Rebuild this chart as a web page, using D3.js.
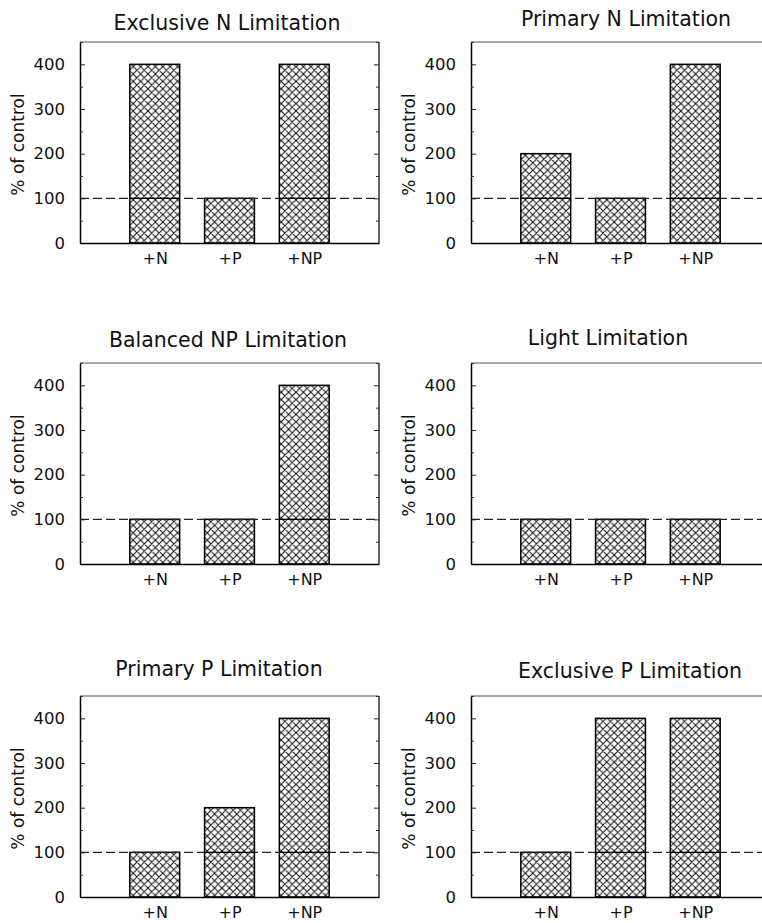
<!DOCTYPE html>
<html>
<head>
<meta charset="utf-8">
<script src="https://cdn.jsdelivr.net/npm/d3@7"></script>
<style>
  body { margin: 0; background: #fff; }
  svg { display: block; }
  text { font-family: "DejaVu Sans", sans-serif; fill: #111; }
</style>
</head>
<body>
<svg id="canvas" width="762" height="923"></svg>
<script>
// data
var treatments = ["+N", "+P", "+NP"];
var titles = ["Exclusive N Limitation", "Primary N Limitation",
              "Balanced NP Limitation", "Light Limitation",
              "Primary P Limitation", "Exclusive P Limitation"];
var exclusiveN = [400, 100, 400];
var primaryN   = [200, 100, 400];
var balancedNP = [100, 100, 400];
var light      = [100, 100, 100];
var primaryP   = [100, 200, 400];
var exclusiveP = [100, 400, 400];
var panelValues = [exclusiveN, primaryN, balancedNP, light, primaryP, exclusiveP];
var yTicks = [0, 100, 200, 300, 400];
var yMinorTicks = [50, 150, 250, 350, 450];
var controlLevel = 100;
var yLabel = "% of control";

// layout of the six panels
var colLeft = [80, 471];
var rowTop = [42, 363, 696];
var plotW = 299, plotH = 201;
var titleY = [30, 26, 347, 345, 676, 678];
var titleX = [227, 626, 228, 608, 219, 630];

var svg = d3.select("#canvas");

var defs = svg.append("defs");
var pat = defs.append("pattern")
	.attr("id", "hatch")
	.attr("patternUnits", "userSpaceOnUse")
	.attr("width", 7.4)
	.attr("height", 7.4);
pat.append("rect").attr("width", 7.4).attr("height", 7.4).attr("fill", "#fff");
pat.append("path")
	.attr("d", "M0,0L7.4,7.4M7.4,0L0,7.4M-1,6.4L1,8.4M6.4,-1L8.4,1")
	.attr("stroke", "#111")
	.attr("stroke-width", 1.05);

panelValues.forEach(function(values, i) {
	var col = i % 2, row = Math.floor(i / 2);
	var x0 = colLeft[col], y0 = rowTop[row];

	var x = d3.scalePoint().domain(treatments).range([x0, x0 + plotW]).padding(1);
	var y = d3.scaleLinear().domain([0, 450]).range([y0 + plotH, y0]);
	var barW = x.step() * 0.667;

	var g = svg.append("g").attr("class", "panel");

	// title
	g.append("text")
		.attr("x", titleX[i])
		.attr("y", titleY[i])
		.attr("text-anchor", "middle")
		.style("font-size", "20.5px")
		.text(titles[i]);

	// bars
	g.selectAll("rect.bar")
		.data(values)
		.enter().append("rect")
		.attr("class", "bar")
		.attr("x", function(d, j) { return x(treatments[j]) - barW / 2; })
		.attr("y", function(d) { return y(d); })
		.attr("width", barW)
		.attr("height", function(d) { return y(0) - y(d); })
		.attr("fill", "url(#hatch)")
		.attr("stroke", "#000")
		.attr("stroke-width", 1.5);

	// control line: dashed across the plot, solid inside taller bars
	g.append("line")
		.attr("x1", x0).attr("x2", x0 + plotW)
		.attr("y1", y(controlLevel)).attr("y2", y(controlLevel))
		.attr("stroke", "#222")
		.attr("stroke-width", 1.3)
		.attr("stroke-dasharray", "9,4");
	values.forEach(function(d, j) {
		if (d > controlLevel) {
			g.append("line")
				.attr("x1", x(treatments[j]) - barW / 2).attr("x2", x(treatments[j]) + barW / 2)
				.attr("y1", y(controlLevel)).attr("y2", y(controlLevel))
				.attr("stroke", "#000")
				.attr("stroke-width", 1.3);
		}
	});

	// frame
	g.append("line")
		.attr("x1", x0).attr("x2", x0 + plotW)
		.attr("y1", y0).attr("y2", y0)
		.attr("stroke", "#555").attr("stroke-width", 1.2);
	g.append("line")
		.attr("x1", x0 + plotW).attr("x2", x0 + plotW)
		.attr("y1", y0).attr("y2", y0 + plotH)
		.attr("stroke", "#222").attr("stroke-width", 1.4);

	// left axis with inward ticks
	var left = g.append("g")
		.attr("transform", "translate(" + x0 + ",0)")
		.call(d3.axisLeft(y).tickValues(yTicks).tickSizeInner(-5).tickSizeOuter(0).tickPadding(15));
	left.select(".domain").attr("stroke", "#000").attr("stroke-width", 1.5);
	left.selectAll(".tick line").attr("stroke", "#222");
	left.selectAll(".tick text")
		.style("font-size", "16.5px")
		.style("font-family", "DejaVu Sans, sans-serif")
		.attr("fill", "#333");
	g.append("g")
		.attr("transform", "translate(" + x0 + ",0)")
		.call(d3.axisLeft(y).tickValues(yMinorTicks).tickSize(-3).tickFormat(""))
		.call(function(a) { a.select(".domain").remove(); a.selectAll(".tick line").attr("stroke", "#333"); });

	// right axis, ticks inward, no labels
	g.append("g")
		.attr("transform", "translate(" + (x0 + plotW) + ",0)")
		.call(d3.axisRight(y).tickValues(yTicks).tickSize(-5).tickFormat(""))
		.call(function(a) { a.select(".domain").remove(); a.selectAll(".tick line").attr("stroke", "#222"); });
	g.append("g")
		.attr("transform", "translate(" + (x0 + plotW) + ",0)")
		.call(d3.axisRight(y).tickValues(yMinorTicks).tickSize(-3).tickFormat(""))
		.call(function(a) { a.select(".domain").remove(); a.selectAll(".tick line").attr("stroke", "#333"); });

	// bottom axis, labels only
	var bottom = g.append("g")
		.attr("transform", "translate(0," + (y0 + plotH) + ")")
		.call(d3.axisBottom(x).tickSize(0).tickPadding(10));
	bottom.select(".domain").attr("stroke", "#000").attr("stroke-width", 1.5);
	bottom.selectAll(".tick text")
		.style("font-size", "16px")
		.style("font-family", "DejaVu Sans, sans-serif")
		.attr("fill", "#222");

	// y label
	g.append("text")
		.attr("transform", "translate(" + (x0 - 56) + "," + (y0 + plotH / 2 + 2) + ") rotate(-90)")
		.attr("text-anchor", "middle")
		.style("font-size", "17px")
		.attr("fill", "#444")
		.text(yLabel);
});
</script>
</body>
</html>
